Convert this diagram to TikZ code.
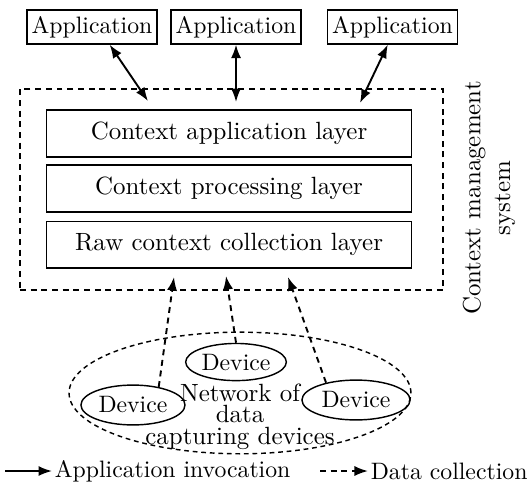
\documentclass[tikz,border=0pt]{standalone}
\usepackage{tikz}
\usetikzlibrary{shapes,arrows.meta,positioning,calc}

\newcommand{\bigtext}{\fontsize{10.5}{12.5}\selectfont}

\begin{document}
\begin{tikzpicture}[
    appbox/.style={rectangle, draw, semithick, minimum width=1.92cm, minimum height=0.5cm, inner sep=2pt},
    layer/.style={rectangle, draw, semithick, minimum width=5.4cm, minimum height=0.69cm, font=\bigtext},
    cmsbox/.style={rectangle, draw, semithick, dash pattern=on 2.5pt off 2pt, minimum width=6.26cm, minimum height=2.975cm},
    device/.style={ellipse, draw, semithick, minimum width=1.54cm, minimum height=0.59cm, inner sep=0pt},
    netwk/.style={ellipse, draw, semithick, dash pattern=on 2pt off 1.6pt, minimum width=5.06cm, minimum height=1.8cm},
    invoke/.style={{Latex[length=2mm,width=1.5mm]}-{Latex[length=2mm,width=1.5mm]}, thick},
    collect/.style={-{Latex[length=2mm,width=1.5mm]}, thick, dash pattern=on 2.5pt off 2pt},
    legend/.style={anchor=west, inner sep=1pt}
]
\useasboundingbox (0,0) rectangle (7.859,-7.282);

% Applications on top
\node[appbox] (app1) at (1.362,-0.400) {Application};
\node[appbox] (app2) at (3.493,-0.400) {Application};
\node[appbox] (app3) at (5.809,-0.400) {Application};

% Context management system with its three layers
\node[cmsbox] (cms) at (3.426,-2.805) {};
\node[layer] (ctxapp) at (3.39,-1.976) {Context application layer};
\node[layer] (ctxproc) at (3.39,-2.790) {Context processing layer};
\node[layer] (rawcoll) at (3.39,-3.619) {Raw context collection layer};
\node[rotate=90, align=center, font=\bigtext] (cmslabel) at (7.237,-2.930) {Context management\\system};

% Invocation arrows between applications and the system
\coordinate (in1) at (2.190,-1.495);
\coordinate (in2) at (3.493,-1.510);
\coordinate (in3) at (5.328,-1.524);
\draw[invoke] (app1.-45) -- (in1);
\draw[invoke] (app2.south) -- (in2);
\draw[invoke] (app3.-105) -- (in3);

% Network of devices
\node[netwk] (net) at (3.552,-5.816) {};
\node[device] (dev1) at (1.968,-5.994) {Device};
\node[device, minimum width=1.49cm, minimum height=0.55cm] (dev2) at (3.493,-5.358) {Device};
\node[device, minimum width=1.6cm] (dev3) at (5.269,-5.920) {Device};
\node[align=center, inner sep=0pt, font=\bigtext] (netlabel) at (3.552,-6.165) {Network of\\[-3.5pt]data\\[-3.5pt]capturing devices};

% Data collection arrows
\coordinate (out1) at (2.575,-4.100);
\coordinate (out2) at (3.345,-4.085);
\coordinate (out3) at (4.262,-4.100);
\draw[collect] (dev1.35) -- (out1);
\draw[collect] (dev2.north) -- (out2);
\draw[collect] (dev3.150) -- (out3);

% Legend
\node[legend] (invoc) at (0.77,-6.971) {Application invocation};
\coordinate (invocstart) at (0.074,-6.971);
\draw[-{Latex[length=2mm,width=1.5mm]}, thick] (invocstart) -- (invoc.west);
\node[legend] (datacoll) at (5.446,-6.971) {Data collection};
\coordinate (collstart) at (4.736,-6.971);
\draw[collect] (collstart) -- (datacoll.west);

\end{tikzpicture}
\end{document}
